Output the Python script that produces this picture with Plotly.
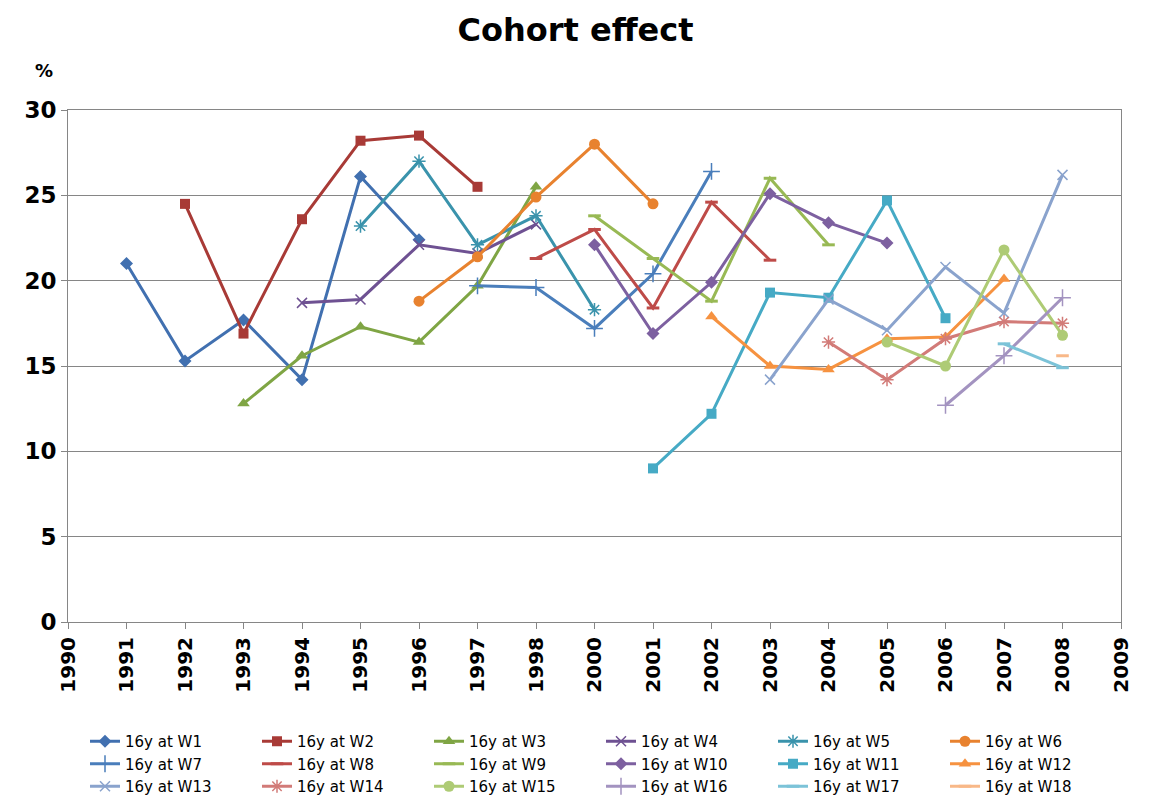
import plotly.graph_objects as go

# Category axis (note: no 1999 in the source chart)
categories = ["1990", "1991", "1992", "1993", "1994", "1995", "1996", "1997", "1998",
              "2000", "2001", "2002", "2003", "2004", "2005", "2006", "2007", "2008", "2009"]
y_ticks = [0, 5, 10, 15, 20, 25, 30]

# Series values (percent)
W1_years = ["1991", "1992", "1993", "1994", "1995", "1996"]
W1 = [21.0, 15.3, 17.7, 14.2, 26.1, 22.4]
W2_years = ["1992", "1993", "1994", "1995", "1996", "1997"]
W2 = [24.5, 16.9, 23.6, 28.2, 28.5, 25.5]
W3_years = ["1993", "1994", "1995", "1996", "1997", "1998"]
W3 = [12.8, 15.6, 17.3, 16.4, 19.7, 25.5]
W4_years = ["1994", "1995", "1996", "1997", "1998"]
W4 = [18.7, 18.9, 22.1, 21.6, 23.3]
W5_years = ["1995", "1996", "1997", "1998", "2000"]
W5 = [23.2, 27.0, 22.1, 23.8, 18.3]
W6_years = ["1996", "1997", "1998", "2000", "2001"]
W6 = [18.8, 21.4, 24.9, 28.0, 24.5]
W7_years = ["1997", "1998", "2000", "2001", "2002"]
W7 = [19.7, 19.6, 17.2, 20.4, 26.4]
W8_years = ["1998", "2000", "2001", "2002", "2003"]
W8 = [21.3, 23.0, 18.4, 24.6, 21.2]
W9_years = ["2000", "2001", "2002", "2003", "2004"]
W9 = [23.8, 21.3, 18.8, 26.0, 22.1]
W10_years = ["2000", "2001", "2002", "2003", "2004", "2005"]
W10 = [22.1, 16.9, 19.9, 25.1, 23.4, 22.2]
W11_years = ["2001", "2002", "2003", "2004", "2005", "2006"]
W11 = [9.0, 12.2, 19.3, 19.0, 24.7, 17.8]
W12_years = ["2002", "2003", "2004", "2005", "2006", "2007"]
W12 = [17.9, 15.0, 14.8, 16.6, 16.7, 20.1]
W13_years = ["2003", "2004", "2005", "2006", "2007", "2008"]
W13 = [14.2, 18.9, 17.1, 20.8, 18.1, 26.2]
W14_years = ["2004", "2005", "2006", "2007", "2008"]
W14 = [16.4, 14.2, 16.6, 17.6, 17.5]
W15_years = ["2005", "2006", "2007", "2008"]
W15 = [16.4, 15.0, 21.8, 16.8]
W16_years = ["2006", "2007", "2008"]
W16 = [12.7, 15.6, 19.0]
W17_years = ["2007", "2008"]
W17 = [16.3, 14.9]
W18_years = ["2008"]
W18 = [15.6]

names = ["16y at W%d" % i for i in range(1, 19)]
all_years = [W1_years, W2_years, W3_years, W4_years, W5_years, W6_years, W7_years, W8_years,
             W9_years, W10_years, W11_years, W12_years, W13_years, W14_years, W15_years,
             W16_years, W17_years, W18_years]
all_vals = [W1, W2, W3, W4, W5, W6, W7, W8, W9, W10, W11, W12, W13, W14, W15, W16, W17, W18]

colors = ["#4170B0", "#A83A36", "#7FA544", "#6E5192", "#3A93AC", "#E8822F",
          "#4A7EBB", "#BE4B48", "#98B954", "#7D60A0", "#46AAC5", "#F69240",
          "#8AA3CD", "#D27B78", "#AECB75", "#A393C0", "#7CC3D8", "#F8B888"]
symbols = ["diamond", "square", "triangle-up", "x-thin-open", "asterisk-open", "circle",
           "cross-thin-open", "line-ew-open", "line-ew-open", "diamond", "square", "triangle-up",
           "x-thin-open", "asterisk-open", "circle", "cross-thin-open", "line-ew-open", "line-ew-open"]
sizes = [10, 10, 11, 10, 11, 11, 12, 9, 9, 10, 10, 11, 10, 11, 11, 12, 9, 9]

fig = go.Figure()
for nm, xs, ys, c, s, sz in zip(names, all_years, all_vals, colors, symbols, sizes):
    thin = s.endswith("-open")
    fig.add_trace(go.Scatter(
        x=xs, y=ys, name=nm, mode="lines+markers",
        line=dict(color=c, width=3),
        marker=dict(symbol=s, size=sz, color=c,
                    line=dict(color=c, width=3 if s.startswith("line") else (1.5 if thin else 0))),
    ))

axis_color = "#868686"
fig.update_layout(
    width=1151, height=798,
    margin=dict(l=68, r=30, t=110, b=176),
    paper_bgcolor="white", plot_bgcolor="white",
    font=dict(family="DejaVu Sans", color="black"),
    title=dict(text="<b>Cohort effect</b>", x=0.5, xref="container", xanchor="center",
               y=1 - 30 / 798, yref="container", yanchor="middle",
               font=dict(family="DejaVu Sans", size=32, color="black")),
    xaxis=dict(type="category", categoryorder="array", categoryarray=categories,
               tickvals=categories, range=[0, len(categories) - 1],
               showgrid=False, showline=True, linecolor=axis_color, linewidth=1, mirror=True,
               ticks="outside", ticklen=6, tickcolor=axis_color, tickangle=-90,
               tickfont=dict(family="DejaVu Sans", size=20, color="black", weight="bold"),
               zeroline=False, fixedrange=True),
    yaxis=dict(range=[0, 30], tickvals=y_ticks, showgrid=True, gridcolor=axis_color, gridwidth=1,
               showline=True, linecolor=axis_color, linewidth=1, mirror=True,
               ticks="outside", ticklen=6, tickcolor=axis_color,
               tickfont=dict(family="DejaVu Sans", size=23, color="black", weight="bold"),
               zeroline=False),
    legend=dict(orientation="h", xref="container", yref="container",
                x=85 / 1151, xanchor="left", y=1 - 725 / 798, yanchor="top",
                entrywidth=127, entrywidthmode="pixels", traceorder="normal",
                font=dict(family="DejaVu Sans", size=15, color="black"),
                bgcolor="rgba(0,0,0,0)", itemwidth=30),
    annotations=[dict(text="<b>%</b>", xref="paper", yref="paper",
                      x=(44 - 68) / 1053, y=1 + (110 - 70) / 512,
                      xanchor="center", yanchor="middle", showarrow=False,
                      font=dict(family="DejaVu Sans", size=18, color="black"))],
)

fig.write_html("out.html")
